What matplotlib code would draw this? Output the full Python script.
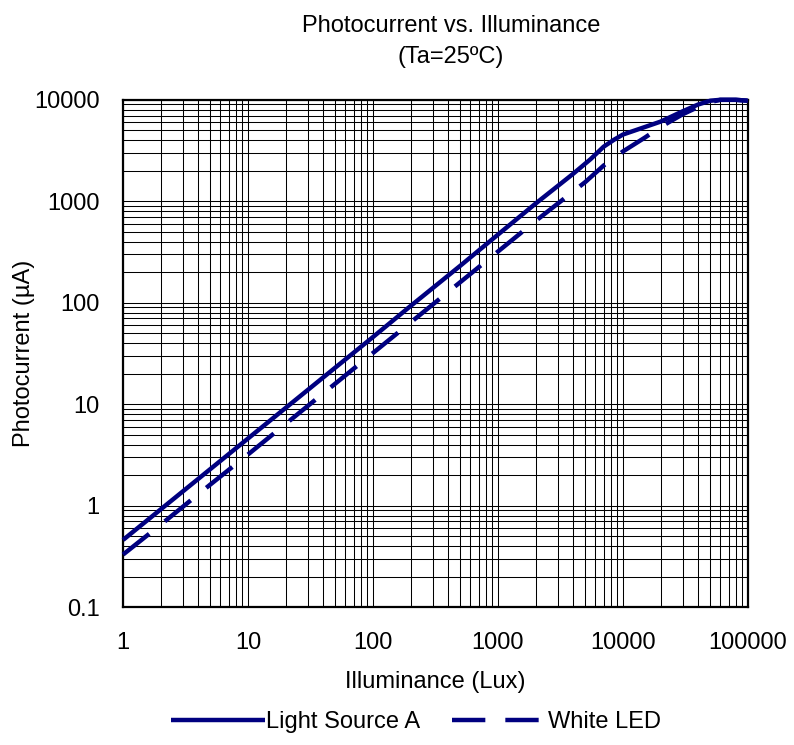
import matplotlib
matplotlib.use("Agg")
import matplotlib.pyplot as plt
from matplotlib.ticker import LogLocator, FixedLocator, FixedFormatter, NullFormatter

plt.rcParams['font.family'] = ['Liberation Sans', 'DejaVu Sans']

# Light Source A (lux -> uA)
lux_a = [1, 2, 5, 10, 20, 50, 100, 200, 500, 1000, 2000, 4000, 5500, 7000,
         8500, 10000, 15000, 20000, 30000, 40000, 50000, 60000, 80000, 100000]
cur_a = [0.46, 0.92, 2.3, 4.6, 9.2, 23, 46, 93, 232, 470, 950, 1870, 2600, 3450,
         4050, 4550, 5400, 6100, 7700, 9000, 9800, 10000, 10000, 9800]

# White LED
lux_w = [1, 2, 5, 10, 20, 50, 100, 200, 500, 1000, 2000, 5000, 7000, 10000,
         15000, 20000, 30000, 40000, 50000, 60000, 80000, 100000]
cur_w = [0.33, 0.65, 1.62, 3.2, 6.4, 16, 32, 64, 160, 320, 640, 1550, 2250, 3100,
         4250, 5400, 7200, 8500, 9500, 10000, 10000, 9800]

x_ticks = [1, 10, 100, 1000, 10000, 100000]
x_labels = ["1", "10", "100", "1000", "10000", "100000"]
y_ticks = [0.1, 1, 10, 100, 1000, 10000]
y_labels = ["0.1", "1", "10", "100", "1000", "10000"]

navy = "#000080"

fig = plt.figure(figsize=(7.94, 7.45), dpi=100)
ax = fig.add_axes([0.155, 0.185, 0.787, 0.681])

ax.plot(lux_a, cur_a, color=navy, lw=3.2, label="Light Source A",
        solid_capstyle="butt", clip_on=False, zorder=3)
ax.plot(lux_w, cur_w, color=navy, lw=3.2, label="White LED",
        dashes=(7.5, 4.5), dash_capstyle="butt", clip_on=False, zorder=3)

ax.set_xscale("log")
ax.set_yscale("log")
ax.set_xlim(1, 100000)
ax.set_ylim(0.1, 10000)

ax.xaxis.set_major_locator(FixedLocator(x_ticks))
ax.xaxis.set_major_formatter(FixedFormatter(x_labels))
ax.yaxis.set_major_locator(FixedLocator(y_ticks))
ax.yaxis.set_major_formatter(FixedFormatter(y_labels))
ax.xaxis.set_minor_locator(LogLocator(base=10, subs=range(2, 10), numticks=20))
ax.yaxis.set_minor_locator(LogLocator(base=10, subs=range(2, 10), numticks=20))
ax.xaxis.set_minor_formatter(NullFormatter())
ax.yaxis.set_minor_formatter(NullFormatter())

ax.grid(True, which="both", color="black", lw=0.75)
ax.tick_params(which="both", length=0)
ax.tick_params(axis="x", pad=18, labelsize=17)
ax.tick_params(axis="y", pad=17, labelsize=17)
for sp in ax.spines.values():
    sp.set_linewidth(1.6)

ax.set_xlabel("Illuminance (Lux)", fontsize=17)
ax.xaxis.set_label_coords(0.5, -0.148)
ax.xaxis.label.set_va("center")
ax.set_ylabel("Photocurrent (\u00b5A)", fontsize=17)
ax.yaxis.set_label_coords(-0.158, 0.5)
ax.yaxis.label.set_va("center")

fig.text(0.568, 1 - 26 / 745, "Photocurrent vs. Illuminance", ha="center",
         va="center", fontsize=17)
fig.text(0.568, 1 - 57 / 745, "(Ta=25\u00baC)", ha="center", va="center",
         fontsize=17)

fig.legend(loc="center left", bbox_to_anchor=(0.215, 1 - 722 / 745), ncol=2,
           frameon=False, fontsize=17, handlelength=4.0, handletextpad=0.05,
           columnspacing=1.35, borderpad=0, borderaxespad=0)

fig.savefig("out.png", dpi=100)
